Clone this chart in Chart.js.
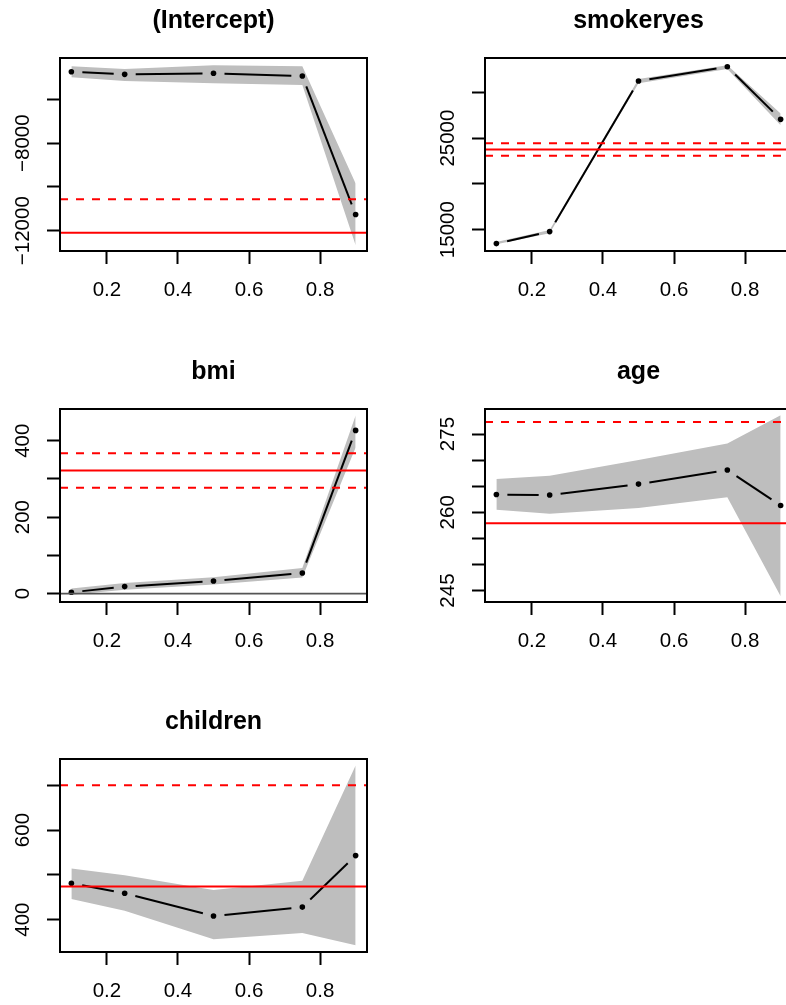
<!DOCTYPE html>
<html>
<head>
<meta charset="utf-8">
<script src="https://cdn.jsdelivr.net/npm/chart.js@4.4.1/dist/chart.umd.min.js"></script>
<style>
  html, body { margin: 0; padding: 0; background: #fff; }
  body { width: 786px; height: 1005px; position: relative; overflow: hidden; }
  canvas { position: absolute; }
</style>
</head>
<body>
<canvas id="p1" width="400" height="310"></canvas>
<canvas id="p2" width="400" height="310"></canvas>
<canvas id="p3" width="400" height="310"></canvas>
<canvas id="p4" width="400" height="310"></canvas>
<canvas id="p5" width="400" height="310"></canvas>
<script>
const FONT = "'Liberation Sans', Arial, Helvetica, sans-serif";

// quantiles
const taus = [0.1, 0.25, 0.5, 0.75, 0.9];
const xTicks = [0.2, 0.4, 0.6, 0.8];
const xRange = [0.068, 0.932];

// (Intercept)
const interceptCoef = [-4737, -4856, -4810, -4934, -11263];
const interceptLo = [-4993, -5162, -5268, -5346, -12668];
const interceptHi = [-4490, -4613, -4444, -4490, -9844];
const interceptOls = [-12092, -13621, -10563];
const interceptTicks = [-12000, -10000, -8000, -6000];
const interceptLabels = [-12000, -8000];
const interceptRange = [-12929, -4110];

// smokeryes
const smokerCoef = [13472, 14782, 31245, 32806, 27052];
const smokerLo = [13400, 14600, 31000, 32550, 26400];
const smokerHi = [13650, 14950, 31450, 32974, 27700];
const smokerOls = [23766, 23086, 24446];
const smokerTicks = [15000, 20000, 25000, 30000];
const smokerLabels = [15000, 25000];
const smokerRange = [12664, 33755];

// bmi
const bmiCoef = [3.4, 18.3, 33, 54, 427];
const bmiLo = [-3, 10, 24, 42, 382];
const bmiHi = [13, 28, 43, 67, 466];
const bmiOls = [322, 277, 367];
const bmiTicks = [0, 100, 200, 300, 400];
const bmiLabels = [0, 200, 400];
const bmiRange = [-22, 483];

// age
const ageCoef = [263.4, 263.3, 265.4, 268.1, 261.3];
const ageLo = [260.5, 259.7, 260.8, 262.9, 243.9];
const ageHi = [266.4, 267.0, 270.0, 273.2, 278.6];
const ageOls = [257.9, 238.5, 277.3];
const ageTicks = [245, 250, 255, 260, 265, 270, 275];
const ageLabels = [245, 260, 275];
const ageRange = [242.8, 279.8];

// children
const childrenCoef = [481, 459, 408, 428, 543];
const childrenLo = [446, 420, 356, 370, 343];
const childrenHi = [514, 499, 466, 487, 744];
const childrenOls = [474, 248, 700];
const childrenTicks = [400, 500, 600, 700];
const childrenLabels = [400, 600];
const childrenRange = [327.7, 758.7];

const toPts = (ys) => taus.map((t, i) => ({ x: t, y: ys[i] }));
const hline = (y) => [{ x: xRange[0], y: y }, { x: xRange[1], y: y }];
const fmt = (v) => String(v).replace("-", "\u2212");

const panelText = {
  id: "panelText",
  afterDraw(chart, args, opts) {
    const { ctx, chartArea: a } = chart;
    const ys = chart.scales.y;
    ctx.save();
    ctx.strokeStyle = "#000";
    ctx.lineWidth = 2;
    ctx.strokeRect(a.left, a.top, a.right - a.left, a.bottom - a.top);
    ctx.fillStyle = "#000";
    ctx.font = "bold 25px " + FONT;
    ctx.textAlign = "center";
    ctx.textBaseline = "alphabetic";
    ctx.fillText(opts.title, (a.left + a.right) / 2, a.top - 30);
    ctx.font = "20.5px " + FONT;
    opts.labels.forEach((v) => {
      ctx.save();
      ctx.translate(a.left - 31, ys.getPixelForValue(v));
      ctx.rotate(-Math.PI / 2);
      ctx.fillText(fmt(v), 0, 0);
      ctx.restore();
    });
    ctx.restore();
  },
};

// type "b" look: leave a gap around each point
function gapDash(ctx) {
  const L = Math.hypot(ctx.p1.x - ctx.p0.x, ctx.p1.y - ctx.p0.y);
  const g = 11;
  if (L <= 2 * g) return [0, L];
  return [0, g, L - 2 * g, g];
}

function makePanel(id, left, top, title, coef, lo, hi, ols, yTicks, yLabels, yRange) {
  const canvas = document.getElementById(id);
  canvas.style.left = (left - 60) + "px";
  canvas.style.top = (top - 58) + "px";
  return new Chart(canvas, {
    type: "line",
    data: {
      datasets: [
        { data: toPts(hi), fill: "+1", backgroundColor: "#bebebe", borderWidth: 0, pointRadius: 0, order: 5 },
        { data: toPts(lo), fill: false, borderWidth: 0, pointRadius: 0, order: 6 },
        {
          data: toPts(coef), borderColor: "#000", borderWidth: 2, borderCapStyle: "butt",
          pointRadius: 2.8, pointBackgroundColor: "#000", pointBorderWidth: 0,
          segment: { borderDash: gapDash }, order: 3,
        },
        { data: hline(0), borderColor: "#555", borderWidth: 1.6, pointRadius: 0, order: 2 },
        { data: hline(ols[0]), borderColor: "#ff0000", borderWidth: 2, pointRadius: 0, order: 1 },
        { data: hline(ols[1]), borderColor: "#ff0000", borderWidth: 2, borderDash: [8, 8], pointRadius: 0, order: 1 },
        { data: hline(ols[2]), borderColor: "#ff0000", borderWidth: 2, borderDash: [8, 8], pointRadius: 0, order: 1 },
      ],
    },
    options: {
      responsive: false,
      animation: false,
      devicePixelRatio: 1,
      layout: { padding: { left: 40, top: 58, right: 33, bottom: 0 } },
      plugins: {
        legend: { display: false },
        tooltip: { enabled: false },
        panelText: { title: title, labels: yLabels },
      },
      scales: {
        x: {
          type: "linear",
          min: xRange[0],
          max: xRange[1],
          afterBuildTicks: (s) => { s.ticks = xTicks.map((v) => ({ value: v })); },
          afterFit: (s) => { s.height = 59; },
          grid: { drawOnChartArea: false, drawTicks: true, tickLength: 13, tickWidth: 2, tickColor: "#000" },
          border: { display: false },
          ticks: { color: "#000", font: { size: 20.5, family: FONT }, padding: 14, maxRotation: 0, autoSkip: false },
        },
        y: {
          type: "linear",
          min: yRange[0],
          max: yRange[1],
          afterBuildTicks: (s) => { s.ticks = yTicks.map((v) => ({ value: v })); },
          afterFit: (s) => { s.width = 20; },
          grid: { drawOnChartArea: false, drawTicks: true, tickLength: 13, tickWidth: 2, tickColor: "#000" },
          border: { display: false },
          ticks: { display: false },
        },
      },
    },
    plugins: [panelText],
  });
}

makePanel("p1", 60, 58, "(Intercept)", interceptCoef, interceptLo, interceptHi, interceptOls, interceptTicks, interceptLabels, interceptRange);
makePanel("p2", 485, 58, "smokeryes", smokerCoef, smokerLo, smokerHi, smokerOls, smokerTicks, smokerLabels, smokerRange);
makePanel("p3", 60, 409, "bmi", bmiCoef, bmiLo, bmiHi, bmiOls, bmiTicks, bmiLabels, bmiRange);
makePanel("p4", 485, 409, "age", ageCoef, ageLo, ageHi, ageOls, ageTicks, ageLabels, ageRange);
makePanel("p5", 60, 759, "children", childrenCoef, childrenLo, childrenHi, childrenOls, childrenTicks, childrenLabels, childrenRange);
</script>
</body>
</html>
